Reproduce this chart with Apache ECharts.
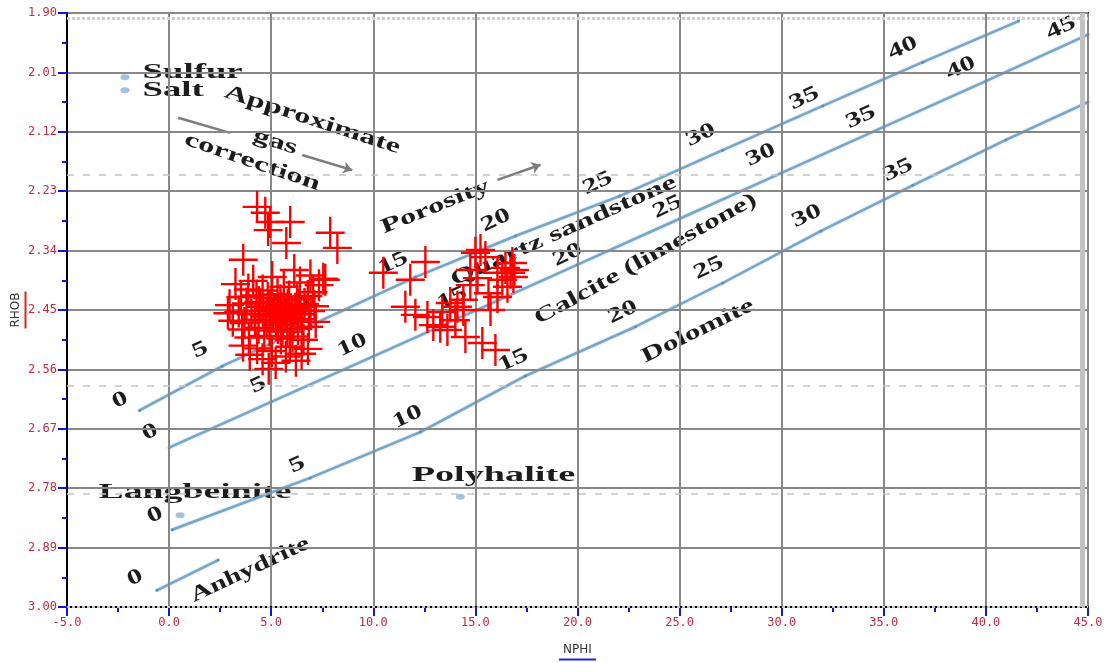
<!DOCTYPE html>
<html>
<head>
<meta charset="utf-8">
<title>NPHI / RHOB crossplot</title>
<script src="https://cdn.jsdelivr.net/npm/echarts@6/dist/echarts.min.js"></script>
<style>
  html, body { margin: 0; padding: 0; background: #fff; }
  #chart { width: 1108px; height: 663px; }
</style>
</head>
<body>
<div id="chart"></div>
<script>
// ---- Lithology curves (NPHI, RHOB) ----
const sandstone = [[-1.45, 2.636], [2.60, 2.554], [7.30, 2.472], [12.06, 2.389], [16.96, 2.313], [22.06, 2.239],
                   [27.11, 2.154], [32.01, 2.072], [36.91, 1.991], [41.6, 1.915]];
const limestone = [[0.0, 2.705], [5.0, 2.620], [10.0, 2.536], [15.0, 2.451], [20.0, 2.366], [25.0, 2.281],
                   [30.0, 2.196], [35.0, 2.111], [40.0, 2.026], [45.0, 1.940]];
const dolomite  = [[0.15, 2.857], [6.91, 2.761], [12.30, 2.676], [17.45, 2.572], [22.84, 2.481], [27.11, 2.400],
                   [31.91, 2.304], [36.42, 2.219], [40.98, 2.135], [45.0, 2.065]];
const anhydrite = [[-0.6, 2.969], [2.4, 2.913]];

// ---- Porosity labels along the curves: [text, NPHI, RHOB] ----
const sandLabels = [['0', -2.40, 2.617], ['5', 1.52, 2.524], ['10', 6.2, 2.445], ['15', 10.98, 2.363], ['20', 16.0, 2.284],
                    ['25', 20.98, 2.215], ['30', 26.03, 2.126], ['35', 31.1, 2.058], ['40', 35.93, 1.965]];
const limeLabels = [['0', -0.93, 2.676], ['5', 4.36, 2.589], ['10', 8.97, 2.515], ['15', 13.87, 2.428], ['20', 19.51, 2.348],
                    ['25', 24.41, 2.259], ['30', 28.97, 2.163], ['35', 33.87, 2.093], ['40', 38.77, 2.002], ['45', 43.68, 1.928]];
const dolLabels  = [['0', -0.69, 2.830], ['5', 6.27, 2.737], ['10', 11.67, 2.648], ['15', 16.86, 2.543], ['20', 22.21, 2.454],
                    ['25', 26.42, 2.372], ['30', 31.23, 2.276], ['35', 35.69, 2.191]];
const anhLabels  = [['0', -1.67, 2.946]];

// ---- Mineral points ----
const minerals = [[-2.16, 2.019], [-2.16, 2.043], [0.54, 2.830], [14.26, 2.796]];

// ---- Chart notes: [text, NPHI, RHOB] ----
const notes = [
  ['Sulfur', -1.30, 2.011], ['Salt', -1.30, 2.044],
  ['Approximate', 7.01, 2.098], ['gas', 5.20, 2.139], ['correction', 4.07, 2.176],
  ['Porosity', 13.04, 2.259], ['Quartz sandstone', 19.31, 2.304], ['Calcite (limestone)', 23.33, 2.356],
  ['Dolomite', 25.90, 2.489], ['Langbeinite', 1.27, 2.789], ['Polyhalite', 15.88, 2.757], ['Anhydrite', 3.97, 2.931]
];

// ---- Arrows (gas correction, porosity direction) ----
const arrows = [
  [[0.44, 2.094], [2.99, 2.122]],
  [[6.52, 2.163], [8.97, 2.191], 'head'],
  [[16.08, 2.209], [18.19, 2.181], 'head']
];

// ---- Reference levels (dashed) ----
const refLevels = [2.198, 2.594, 2.793];

// ---- Well log samples (NPHI, RHOB) ----
const samplesA = [
  [4.31, 2.259], [4.71, 2.270], [4.85, 2.302], [5.93, 2.287], [5.74, 2.326], [7.89, 2.307], [8.24, 2.335],
  [3.63, 2.357], [6.13, 2.376], [7.65, 2.394], [4.95, 2.287],
  [3.25, 2.402], [4.12, 2.396], [5.05, 2.389], [6.92, 2.386], [7.34, 2.404], [3.88, 2.412], [5.62, 2.407],
  [6.41, 2.399], [7.05, 2.417], [4.58, 2.414], [7.55, 2.392],
  [3.52, 2.426], [4.28, 2.423], [4.83, 2.428], [5.31, 2.421], [5.88, 2.425], [6.27, 2.430], [6.79, 2.424],
  [2.96, 2.441], [3.79, 2.438], [4.47, 2.444], [5.02, 2.437], [5.49, 2.446], [5.81, 2.440], [6.18, 2.447],
  [6.63, 2.439], [7.12, 2.443],
  [2.88, 2.456], [3.41, 2.453], [4.03, 2.458], [4.62, 2.452], [5.09, 2.459], [5.38, 2.455], [5.71, 2.461],
  [6.02, 2.454], [6.44, 2.458], [6.93, 2.452],
  [3.12, 2.470], [3.69, 2.474], [4.21, 2.468], [4.77, 2.473], [5.24, 2.469], [5.58, 2.476], [6.09, 2.471],
  [6.52, 2.467], [7.18, 2.472],
  [3.58, 2.486], [4.38, 2.483], [4.92, 2.488], [5.33, 2.484], [5.79, 2.490], [6.31, 2.485], [6.84, 2.481],
  [3.91, 2.501], [4.66, 2.498], [5.47, 2.503], [6.04, 2.499], [6.58, 2.505],
  [4.95, 2.445], [5.15, 2.448], [5.65, 2.451], [5.45, 2.432], [4.75, 2.462], [5.95, 2.465], [5.25, 2.478],
  [4.40, 2.435], [6.35, 2.440], [5.55, 2.490],
  [3.62, 2.516], [4.31, 2.521], [5.03, 2.526], [5.91, 2.518], [6.49, 2.531], [4.58, 2.541], [5.22, 2.548],
  [6.21, 2.544], [4.88, 2.559], [5.72, 2.536], [3.95, 2.533], [6.80, 2.522]
];
const samplesB = [
  [10.49, 2.381], [11.81, 2.394], [12.55, 2.361], [12.06, 2.459], [11.57, 2.444], [12.94, 2.478], [13.63, 2.487],
  [14.51, 2.500], [15.34, 2.511], [15.98, 2.524], [15.00, 2.344], [15.49, 2.352], [16.08, 2.381], [16.72, 2.381],
  [16.57, 2.407], [16.08, 2.426], [15.64, 2.419], [14.41, 2.431], [14.12, 2.444], [13.77, 2.437], [14.75, 2.376],
  [15.10, 2.391], [16.32, 2.394], [16.81, 2.363], [16.86, 2.389], [13.38, 2.454], [12.65, 2.463], [14.41, 2.450],
  [15.25, 2.339], [16.47, 2.372], [16.91, 2.376], [15.74, 2.450], [14.02, 2.469], [13.28, 2.481], [14.75, 2.404]
];

// ---- Styles ----
const curveColor = '#7aa6c6';
const tickBlue = '#1414e0';
const labelRed = '#c8283c';
const inkColor = '#1c1c1c';
const serif = '"Liberation Serif", "DejaVu Serif", serif';

const noteStyle = {
  'Sulfur': { rot: 0, sx: 1.75, align: 'left' },
  'Salt': { rot: 0, sx: 1.75, align: 'left' },
  'Approximate': { rot: -18, sx: 1.55 },
  'gas': { rot: -18, sx: 1.55 },
  'correction': { rot: -19, sx: 1.55 },
  'Porosity': { rot: 22, sx: 1.55 },
  'Quartz sandstone': { rot: 24, sx: 1.55 },
  'Calcite (limestone)': { rot: 29, sx: 1.5 },
  'Dolomite': { rot: 26, sx: 1.5 },
  'Langbeinite': { rot: 0, sx: 1.8 },
  'Polyhalite': { rot: 0, sx: 1.82 },
  'Anhydrite': { rot: 25, sx: 1.4 }
};

const curveSeries = (name, data) => ({
  name, type: 'line', data, z: 2, silent: true,
  symbol: 'circle', symbolSize: 3, showSymbol: true,
  itemStyle: { color: '#5e8db0' },
  lineStyle: { color: curveColor, width: 2.5, shadowColor: 'rgba(110,160,200,0.6)', shadowBlur: 2 }
});

const tickStyle = { show: true, length: 9, lineStyle: { color: tickBlue, width: 2 } };
const minorStyle = { show: true, splitNumber: 2, length: 5, lineStyle: { color: tickBlue, width: 2 } };

const chart = echarts.init(document.getElementById('chart'), null, { renderer: 'canvas' });

const option = {
  animation: false,
  backgroundColor: '#ffffff',
  grid: {
    left: 67, right: 20, top: 13, bottom: 56, outerBoundsMode: 'none', containLabel: false,
    show: true, borderColor: '#000', borderWidth: 2, backgroundColor: 'transparent'
  },
  xAxis: {
    type: 'value', min: -5, max: 45, interval: 5, z: 3,
    name: '{t|NPHI}\n{u| }', nameLocation: 'middle', nameGap: 35, nameMoveOverlap: false,
    nameTextStyle: {
      rich: {
        t: { fontSize: 12, color: '#333', fontFamily: 'DejaVu Sans', lineHeight: 16, align: 'center' },
        u: { width: 37, height: 2, lineHeight: 3, backgroundColor: '#2222dd', align: 'center', fontSize: 1 }
      }
    },
    axisLine: { onZero: false, lineStyle: { color: '#000', width: 2 } },
    axisTick: tickStyle, minorTick: minorStyle,
    splitLine: { show: true, lineStyle: { color: '#888', width: 2 } },
    axisLabel: { color: labelRed, fontFamily: 'DejaVu Sans Mono', fontSize: 12, margin: 10, formatter: v => v.toFixed(1) }
  },
  yAxis: {
    type: 'value', min: 1.90, max: 3.00, interval: 0.11, inverse: true, z: 3,
    name: '{t|RHOB}\n{u| }', nameLocation: 'middle', nameGap: 40, nameRotate: 90, nameMoveOverlap: false,
    nameTextStyle: {
      rich: {
        t: { fontSize: 12, color: '#333', fontFamily: 'DejaVu Sans', lineHeight: 16, align: 'center' },
        u: { width: 37, height: 2, lineHeight: 3, backgroundColor: '#e02020', align: 'center', fontSize: 1 }
      }
    },
    axisLine: { onZero: false, lineStyle: { color: '#000', width: 2 } },
    axisTick: tickStyle, minorTick: minorStyle,
    splitLine: { show: true, lineStyle: { color: '#888', width: 2 } },
    axisLabel: { color: labelRed, fontFamily: 'DejaVu Sans Mono', fontSize: 12, margin: 10, formatter: v => v.toFixed(2) }
  },
  series: [
    curveSeries('Quartz sandstone', sandstone),
    curveSeries('Calcite (limestone)', limestone),
    curveSeries('Dolomite', dolomite),
    Object.assign(curveSeries('Anhydrite', anhydrite), {
      markLine: {
        silent: true, symbol: 'none', label: { show: false },
        lineStyle: { color: '#c4c4c4', type: [7, 9], width: 1.5 },
        data: refLevels.map(v => ({ yAxis: v }))
      }
    }),
    {
      name: 'edge', type: 'line', data: [], silent: true, z: 1,
      markLine: {
        silent: true, symbol: 'none', label: { show: false },
        data: [
          { xAxis: 44.72, lineStyle: { color: '#c2c2c2', width: 5, type: 'solid' } },
          { yAxis: 1.906, lineStyle: { color: '#cfcfcf', width: 3, type: [3, 2] } },
          { yAxis: 2.996, lineStyle: { color: '#c2c2c2', width: 2, type: [3, 2] } }
        ]
      }
    },
    {
      name: 'minerals', type: 'scatter', data: minerals, silent: true, z: 2,
      symbol: 'circle', symbolSize: [9, 6], itemStyle: { color: '#8fb1d2' }
    },
    {
      name: 'arrows', type: 'lines', coordinateSystem: 'cartesian2d', silent: true, z: 2,
      data: arrows.map(a => ({
        coords: [a[0], a[1]],
        symbol: a[2] ? ['none', 'arrow'] : ['none', 'none'],
        symbolSize: 9
      })),
      lineStyle: { color: '#7c7c7c', width: 2.5, opacity: 1 },
      itemStyle: { color: '#7c7c7c' }
    },
    {
      name: 'samples', type: 'scatter', z: 10, silent: true,
      data: samplesA.concat(samplesB),
      symbol: 'path://M-1.2,-16L1.2,-16L1.2,16L-1.2,16Z M-14.5,-1.2L14.5,-1.2L14.5,1.2L-14.5,1.2Z',
      symbolSize: [29, 32],
      itemStyle: { color: '#ff0000', opacity: 1 }
    }
  ]
};

chart.setOption(option);

// Place the serif chart notes and porosity numbers at their data positions
const toPx = (x, y) => chart.convertToPixel({ gridIndex: 0 }, [x, y]);
const deg = d => d * Math.PI / 180;
const textEl = (txt, px, rot, sx, align, size) => ({
  type: 'text', x: px[0], y: px[1], rotation: deg(rot), scaleX: sx, z: 1, silent: true,
  style: {
    text: txt, fill: inkColor, font: 'bold ' + size + 'px ' + serif,
    textAlign: align || 'center', textVerticalAlign: 'middle',
    shadowColor: 'rgba(0,0,0,0.4)', shadowBlur: 1.5
  }
});

const graphics = [];
notes.forEach(n => {
  const s = noteStyle[n[0]];
  graphics.push(textEl(n[0], toPx(n[1], n[2]), s.rot, s.sx, s.align, 21));
});
[sandLabels, limeLabels, dolLabels, anhLabels].forEach(group => {
  group.forEach(l => graphics.push(textEl(l[0], toPx(l[1], l[2]), 25, 1.45, 'center', 21)));
});

chart.setOption({ graphic: { elements: graphics } });
</script>
</body>
</html>
